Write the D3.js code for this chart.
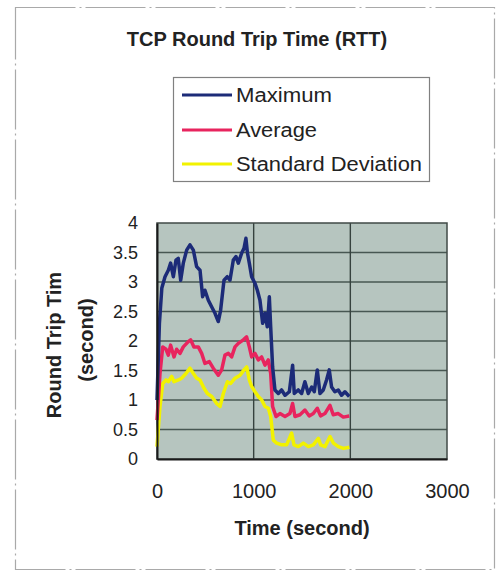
<!DOCTYPE html>
<html>
<head>
<meta charset="utf-8">
<script src="https://cdn.jsdelivr.net/npm/d3@7"></script>
<style>
  html, body { margin: 0; padding: 0; background: #ffffff; }
  svg { display: block; font-family: "Liberation Sans", Arial, sans-serif; }
</style>
</head>
<body>
<svg id="chart" width="499" height="571"></svg>
<script>
const title = "TCP Round Trip Time (RTT)";
const seriesNames = ["Maximum", "Average", "Standard Deviation"];
const seriesColors = ["#1c2b78", "#e8245e", "#f2f200"];
const xTicks = [0, 1000, 2000, 3000];
const yTicks = [0, 0.5, 1, 1.5, 2, 2.5, 3, 3.5, 4];
const xTitle = "Time (second)";
const yTitle = ["Round Trip Tim", "(second)"];

const maxTime = [0, 25, 50, 83, 117, 141, 169, 196, 220, 245, 272, 307, 341, 376, 410, 445, 472, 496, 531, 565, 600, 634, 658, 693, 727, 755, 789, 817, 841, 876, 900, 920, 935, 955, 979, 1013, 1038, 1065, 1093, 1117, 1141, 1162, 1176, 1196, 1220, 1255, 1289, 1324, 1369, 1403, 1420, 1461, 1496, 1530, 1565, 1600, 1627, 1658, 1686, 1720, 1754, 1782, 1806, 1840, 1875, 1909, 1944, 1989];
const maxValues = [1.0, 2.3, 2.9, 3.09, 3.2, 3.32, 3.09, 3.37, 3.4, 3.03, 3.32, 3.54, 3.63, 3.54, 3.26, 3.2, 2.75, 2.86, 2.69, 2.58, 2.47, 2.33, 2.52, 3.03, 3.09, 3.03, 3.37, 3.43, 3.32, 3.49, 3.57, 3.74, 3.5, 3.32, 3.09, 2.98, 2.86, 2.69, 2.3, 2.47, 2.24, 2.75, 2.24, 1.56, 1.17, 1.11, 1.17, 1.08, 1.14, 1.59, 1.11, 1.17, 1.11, 1.31, 1.11, 1.22, 1.14, 1.51, 1.11, 1.17, 1.34, 1.51, 1.22, 1.14, 1.17, 1.08, 1.14, 1.06];

const avgTime = [0, 31, 59, 93, 117, 141, 176, 203, 238, 272, 324, 348, 382, 427, 462, 496, 541, 582, 634, 669, 703, 738, 772, 807, 841, 893, 927, 955, 979, 1013, 1048, 1082, 1117, 1151, 1176, 1196, 1231, 1272, 1324, 1375, 1403, 1427, 1479, 1530, 1575, 1617, 1658, 1692, 1737, 1789, 1823, 1875, 1927, 1989];
const avgValues = [0.66, 1.45, 1.90, 1.86, 1.76, 1.93, 1.73, 1.86, 1.79, 1.90, 1.99, 2.02, 1.90, 1.90, 1.79, 1.62, 1.65, 1.54, 1.42, 1.51, 1.76, 1.79, 1.73, 1.90, 1.96, 2.02, 2.07, 1.90, 1.73, 1.79, 1.68, 1.73, 1.59, 1.68, 1.45, 0.89, 0.72, 0.77, 0.72, 0.77, 0.94, 0.72, 0.75, 0.83, 0.73, 0.77, 0.86, 0.73, 0.77, 0.91, 0.75, 0.77, 0.71, 0.73];

const sdTime = [0, 31, 59, 93, 117, 152, 176, 221, 255, 300, 341, 376, 410, 445, 486, 521, 566, 617, 652, 686, 728, 762, 807, 859, 900, 928, 955, 979, 1014, 1048, 1083, 1117, 1152, 1176, 1203, 1238, 1290, 1341, 1393, 1417, 1462, 1514, 1566, 1617, 1669, 1693, 1738, 1790, 1824, 1876, 1928, 1990];
const sdValues = [0.21, 0.89, 1.28, 1.34, 1.31, 1.40, 1.31, 1.34, 1.37, 1.45, 1.54, 1.45, 1.37, 1.34, 1.20, 1.11, 1.06, 0.94, 0.89, 1.11, 1.31, 1.28, 1.37, 1.42, 1.51, 1.56, 1.34, 1.23, 1.14, 1.06, 1.00, 0.89, 0.86, 0.72, 0.32, 0.27, 0.24, 0.24, 0.44, 0.24, 0.21, 0.27, 0.21, 0.24, 0.35, 0.24, 0.21, 0.38, 0.27, 0.21, 0.18, 0.20];

const series = [
  {name: seriesNames[0], color: seriesColors[0], t: maxTime, v: maxValues},
  {name: seriesNames[1], color: seriesColors[1], t: avgTime, v: avgValues},
  {name: seriesNames[2], color: seriesColors[2], t: sdTime, v: sdValues}
];

const svg = d3.select("#chart");

// outer frame
svg.append("rect")
  .attr("x", 15.5).attr("y", 7.5).attr("width", 479).attr("height", 562)
  .attr("fill", "none").attr("stroke", "#a9a9a9").attr("stroke-width", 1.2)
  .attr("stroke-dasharray", "60,4,2,4");

const plot = {left: 157, right: 447, top: 223, bottom: 459};
const x = d3.scaleLinear().domain([0, 3000]).range([plot.left, plot.right]);
const y = d3.scaleLinear().domain([0, 4]).range([plot.bottom, plot.top]);

// plot background
svg.append("rect")
  .attr("x", plot.left).attr("y", plot.top)
  .attr("width", plot.right - plot.left).attr("height", plot.bottom - plot.top)
  .attr("fill", "#b6c5bf");

// gridlines
svg.append("g").selectAll("line").data(yTicks.filter(d => d > 0 && d < 4)).join("line")
  .attr("x1", plot.left).attr("x2", plot.right)
  .attr("y1", d => y(d)).attr("y2", d => y(d))
  .attr("stroke", "#475752").attr("stroke-width", 1.4);
svg.append("g").selectAll("line").data(xTicks.filter(d => d > 0 && d < 3000)).join("line")
  .attr("x1", d => x(d)).attr("x2", d => x(d))
  .attr("y1", plot.top).attr("y2", plot.bottom)
  .attr("stroke", "#36423e").attr("stroke-width", 1.4);

// border
svg.append("rect")
  .attr("x", plot.left).attr("y", plot.top)
  .attr("width", plot.right - plot.left).attr("height", plot.bottom - plot.top)
  .attr("fill", "none").attr("stroke", "#404a47").attr("stroke-width", 1.5);

// lines
const line = d3.line().x(d => x(d[0])).y(d => y(d[1]));
series.slice().reverse().forEach(s => {
  const pts = s.t.map((t, i) => [t, s.v[i]]);
  svg.append("path").datum(pts)
    .attr("d", line)
    .attr("fill", "none")
    .attr("stroke", s.color)
    .attr("stroke-width", 3.5)
    .attr("stroke-linejoin", "round");
});

// axes
const yAxis = d3.axisLeft(y).tickValues(yTicks).tickSize(0).tickPadding(19)
  .tickFormat(d => String(d));
const gy = svg.append("g").attr("transform", `translate(${plot.left},0)`).call(yAxis);
gy.select(".domain").attr("stroke", "#1a1a1a").attr("stroke-width", 2);
gy.selectAll("text").attr("font-size", 18).attr("fill", "#222")
  .attr("font-family", "'Liberation Sans', Arial, sans-serif");

const xAxis = d3.axisBottom(x).tickValues(xTicks).tickSize(0).tickPadding(25)
  .tickFormat(d => String(d));
const gx = svg.append("g").attr("transform", `translate(0,${plot.bottom})`).call(xAxis);
gx.select(".domain").attr("stroke", "#1a1a1a").attr("stroke-width", 2);
gx.selectAll("text").attr("font-size", 20).attr("fill", "#222")
  .attr("font-family", "'Liberation Sans', Arial, sans-serif");

// titles
svg.append("text").attr("x", 257).attr("y", 46)
  .attr("text-anchor", "middle").attr("font-size", 20).attr("font-weight", "bold")
  .attr("fill", "#222").text(title);

svg.append("text").attr("x", (plot.left + plot.right) / 2).attr("y", 535)
  .attr("text-anchor", "middle").attr("font-size", 20).attr("font-weight", "bold")
  .attr("fill", "#222").text(xTitle);

svg.append("text").attr("transform", "translate(61,345) rotate(-90)")
  .attr("text-anchor", "middle").attr("font-size", 20).attr("font-weight", "bold")
  .attr("fill", "#222").text(yTitle[0]);
svg.append("text").attr("transform", "translate(93,340) rotate(-90)")
  .attr("text-anchor", "middle").attr("font-size", 20).attr("font-weight", "bold")
  .attr("fill", "#222").text(yTitle[1]);

// legend
const lg = svg.append("g");
lg.append("rect").attr("x", 173.5).attr("y", 77.5).attr("width", 256).attr("height", 104)
  .attr("fill", "#fff").attr("stroke", "#808080").attr("stroke-width", 1.2);
const legendY = [95, 130, 164];
const legendWidths = [96, 81, 186];
series.forEach((s, i) => {
  lg.append("line").attr("x1", 182).attr("x2", 232)
    .attr("y1", legendY[i]).attr("y2", legendY[i])
    .attr("stroke", s.color).attr("stroke-width", 3);
  lg.append("text").attr("x", 236).attr("y", legendY[i] + 7)
    .attr("font-size", 20).attr("fill", "#222")
    .attr("textLength", legendWidths[i]).attr("lengthAdjust", "spacingAndGlyphs")
    .text(s.name);
});
</script>
</body>
</html>
